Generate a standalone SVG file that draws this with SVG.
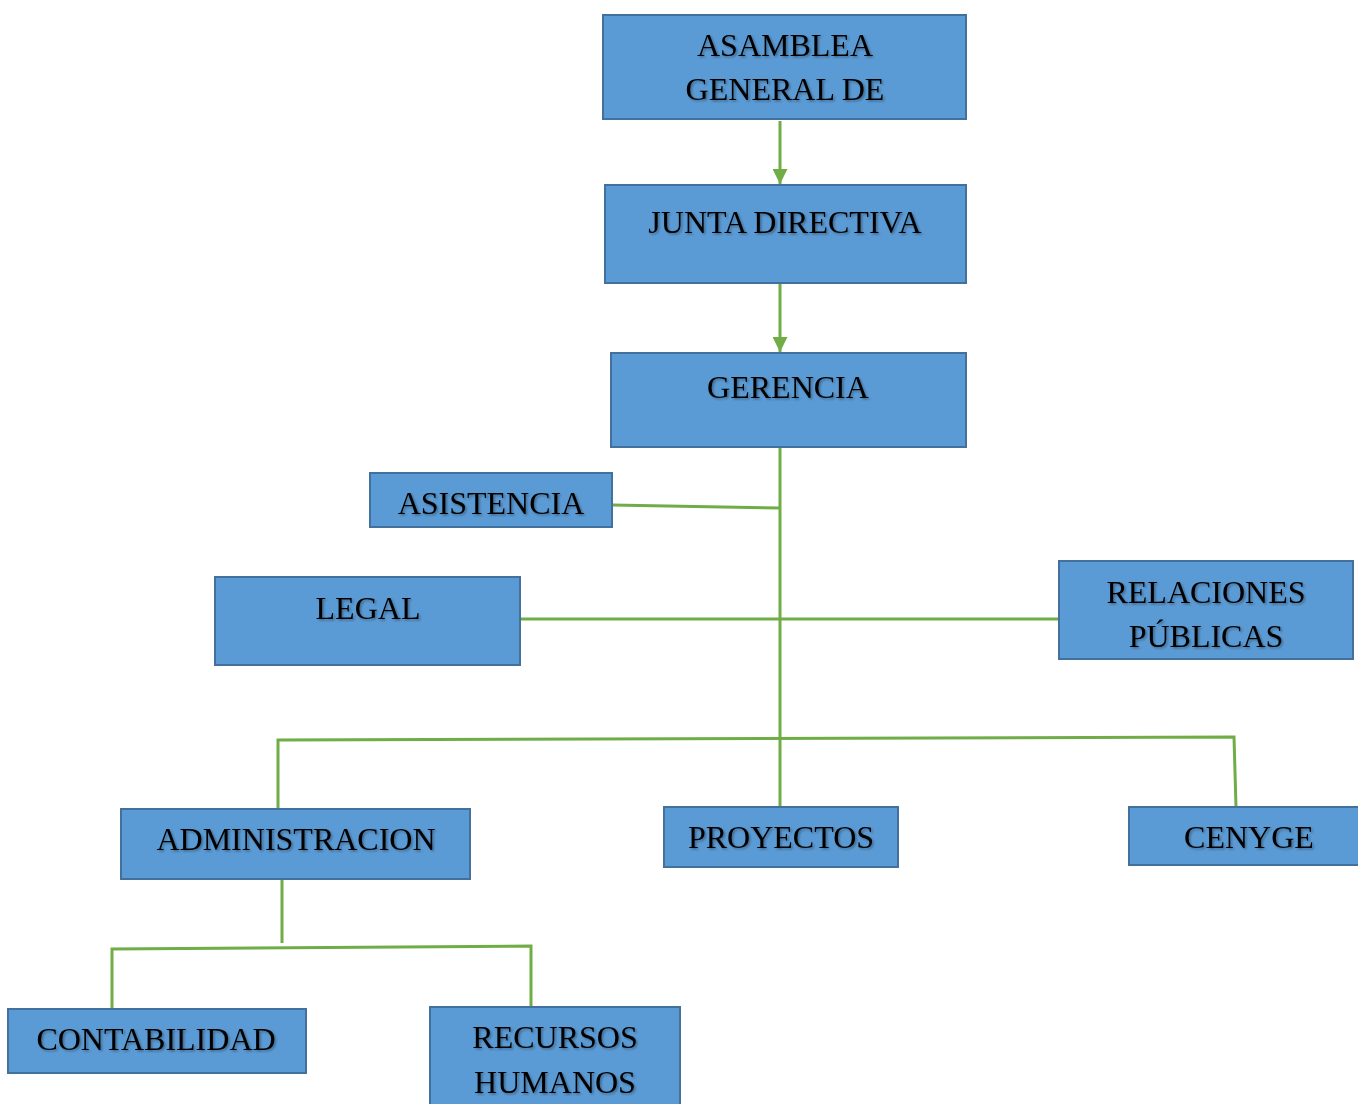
<svg xmlns="http://www.w3.org/2000/svg" width="1358" height="1104" viewBox="0 0 1358 1104">
<defs>
<style>
.box{fill:#5B9BD5;stroke:#41719C;stroke-width:2}
.t{font-family:"Liberation Serif","Times New Roman",serif;font-size:32px;fill:#000;text-anchor:middle;filter:url(#sh)}
.c{fill:none;stroke:#70AD47;stroke-width:3}
</style>
<filter id="sh" x="-10%" y="-30%" width="120%" height="160%">
<feDropShadow dx="1.5" dy="1.5" stdDeviation="1" flood-color="#000" flood-opacity="0.35"/>
</filter>
<marker id="ah" viewBox="0 0 10 10" refX="10" refY="5" markerWidth="5" markerHeight="5" orient="auto" markerUnits="strokeWidth">
<path d="M0,0 L10,5 L0,10 Z" fill="#70AD47"/>
</marker>
</defs>
<rect width="1358" height="1104" fill="#fff"/>
<g id="connectors">
<line class="c" x1="780" y1="121" x2="780" y2="184" marker-end="url(#ah)"/>
<line class="c" x1="780" y1="284" x2="780" y2="352" marker-end="url(#ah)"/>
<line class="c" x1="780" y1="447" x2="780" y2="807"/>
<polyline class="c" points="612,505 780,508"/>
<line class="c" x1="520" y1="619" x2="1059" y2="619"/>
<polyline class="c" points="278,809 278,740 1234,737 1236,807"/>
<line class="c" x1="282" y1="879" x2="282" y2="943"/>
<polyline class="c" points="112,1009 112,949 531,946 531,1007"/>
</g>
<g id="asamblea"><rect class="box" x="603" y="15" width="363" height="104"/><text class="t" x="785" y="56">ASAMBLEA</text><text class="t" x="785" y="100">GENERAL DE</text></g>
<g id="junta"><rect class="box" x="605" y="185" width="361" height="98"/><text class="t" x="785" y="233">JUNTA DIRECTIVA</text></g>
<g id="gerencia"><rect class="box" x="611" y="353" width="355" height="94"/><text class="t" x="788" y="398">GERENCIA</text></g>
<g id="asistencia"><rect class="box" x="370" y="473" width="242" height="54"/><text class="t" x="491" y="514">ASISTENCIA</text></g>
<g id="legal"><rect class="box" x="215" y="577" width="305" height="88"/><text class="t" x="368" y="619">LEGAL</text></g>
<g id="relaciones"><rect class="box" x="1059" y="561" width="294" height="98"/><text class="t" x="1206" y="603">RELACIONES</text><text class="t" x="1206" y="647">PÚBLICAS</text></g>
<g id="administracion"><rect class="box" x="121" y="809" width="349" height="70"/><text class="t" x="296" y="850">ADMINISTRACION</text></g>
<g id="proyectos"><rect class="box" x="664" y="807" width="234" height="60"/><text class="t" x="781" y="848">PROYECTOS</text></g>
<g id="cenyge"><rect class="box" x="1129" y="807" width="240" height="58"/><text class="t" x="1249" y="848">CENYGE</text></g>
<g id="contabilidad"><rect class="box" x="8" y="1009" width="298" height="64"/><text class="t" x="156" y="1050">CONTABILIDAD</text></g>
<g id="recursos"><rect class="box" x="430" y="1007" width="250" height="106"/><text class="t" x="555" y="1048">RECURSOS</text><text class="t" x="555" y="1093">HUMANOS</text></g>
</svg>
